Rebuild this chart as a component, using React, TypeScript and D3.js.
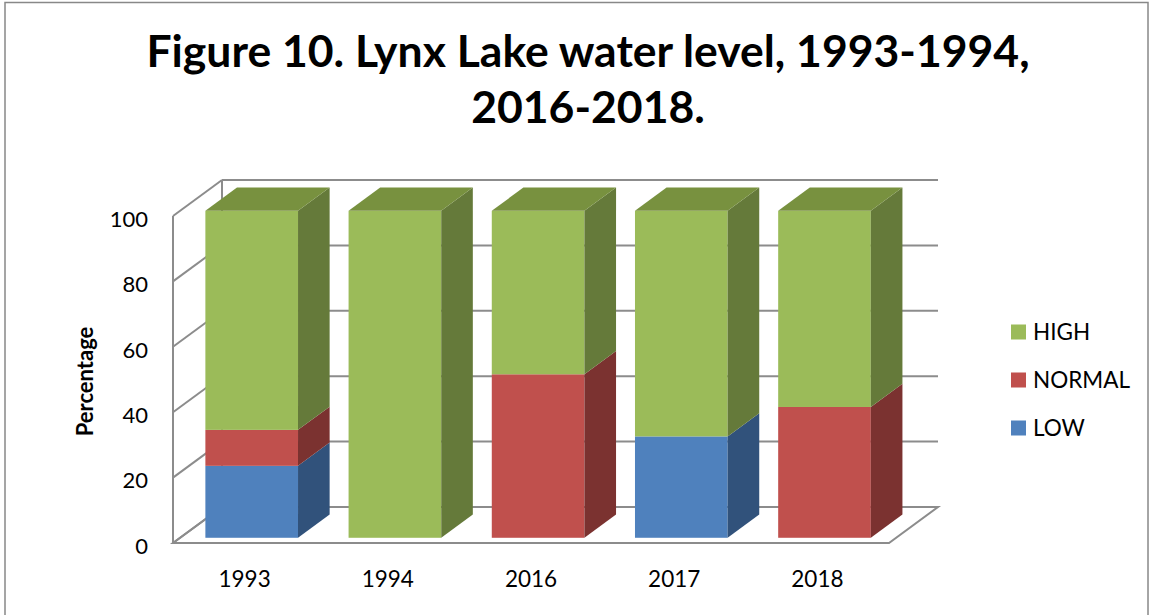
import * as d3 from "d3";

const years = ["1993", "1994", "2016", "2017", "2018"];
const lowValues = [22, 0, 0, 31, 0];
const normalValues = [11, 0, 50, 0, 40];
const highValues = [67, 100, 50, 69, 60];
const seriesNames = ["LOW", "NORMAL", "HIGH"];
const yTicks = [0, 20, 40, 60, 80, 100];
const titleLines = ["Figure 10. Lynx Lake water level, 1993-1994,", "2016-2018."];

const W = 1151;
const H = 615;
const FONT = "Lato, 'Open Sans', sans-serif";

// plot box (front plane) and 3d depth offset
const left = 173;
const right = 889;
const bottom = 543;
const top = 216;
const DX = 49;
const DY = 36;
const zFront = 0.145;
const zBack = 0.79;

const colors: Record<string, { front: string; side: string; top: string }> = {
  LOW: { front: "#4F81BD", side: "#31527B", top: "#3E6A9E" },
  NORMAL: { front: "#C0504D", side: "#7B3230", top: "#9A3F3C" },
  HIGH: { front: "#9BBB59", side: "#657A3A", top: "#78913F" },
};

export default function App() {
  const rows = years.map((year, i) => ({
    year,
    LOW: lowValues[i],
    NORMAL: normalValues[i],
    HIGH: highValues[i],
  }));
  const stacked = d3.stack<any>().keys(seriesNames)(rows);

  const x = d3.scaleBand().domain(years).range([left, right]).paddingInner(0.353).paddingOuter(0.1765);
  const y = d3.scaleLinear().domain([0, 100]).range([bottom, top]);

  const p = (px: number, v: number, z: number): [number, number] => [px + z * DX, y(v) - z * DY];
  const poly = (pts: [number, number][]) => pts.map((q) => q.join(",")).join(" ");

  const gridColor = "#8C8C8C";
  const bw = x.bandwidth();

  return (
    <svg width={W} height={H} style={{ position: "absolute", left: 0, top: 0, background: "#fff" }}>
      <rect x={5} y={2.5} width={1143} height={700} fill="#fff" stroke="#888" strokeWidth={1.5} />

      {titleLines.map((t, i) => (
        <text key={t} x={588} y={67 + i * 56} textAnchor="middle" fontFamily={FONT} fontWeight="bold" fontSize={44.5} fill="#000">
          {t}
        </text>
      ))}

      {/* walls */}
      <g stroke={gridColor} strokeWidth={2} fill="none">
        <polygon points={poly([p(left, 0, 0), p(right, 0, 0), p(right, 0, 1), p(left, 0, 1)])} fill="#fff" />
        {yTicks.map((t) => (
          <g key={t}>
            <line x1={left} y1={y(t)} x2={left + DX} y2={y(t) - DY} />
            <line x1={left + DX} y1={y(t) - DY} x2={right + DX} y2={y(t) - DY} />
          </g>
        ))}
        <line x1={left} y1={y(0)} x2={left} y2={y(100)} />
        <line x1={left + DX} y1={y(0) - DY} x2={left + DX} y2={y(100) - DY} />
      </g>

      {/* bars */}
      {years.map((year, i) => {
        const x0 = x(year)!;
        const x1 = x0 + bw;
        return (
          <g key={year}>
            {stacked.map((s, si) => {
              const [v0, v1] = s[i];
              if (v1 - v0 <= 0) return null;
              const c = colors[s.key];
              const isTop = si === stacked.length - 1 || stacked.slice(si + 1).every((u) => u[i][1] - u[i][0] <= 0);
              const f0 = p(x0, v1, zFront);
              const f1 = p(x1, v0, zFront);
              return (
                <g key={s.key}>
                  <rect x={f0[0]} y={f0[1]} width={f1[0] - f0[0]} height={f1[1] - f0[1]} fill={c.front} />
                  <polygon points={poly([p(x1, v0, zFront), p(x1, v1, zFront), p(x1, v1, zBack), p(x1, v0, zBack)])} fill={c.side} />
                  {isTop && (
                    <polygon points={poly([p(x0, v1, zFront), p(x1, v1, zFront), p(x1, v1, zBack), p(x0, v1, zBack)])} fill={c.top} />
                  )}
                </g>
              );
            })}
          </g>
        );
      })}

      {/* y axis labels */}
      {yTicks.map((t) => (
        <text key={t} x={148} y={y(t) + 3} dy="0.35em" textAnchor="end" fontFamily={FONT} fontSize={22} fill="#000">
          {t}
        </text>
      ))}
      <text transform={`translate(93,${(top + bottom) / 2 + 2}) rotate(-90)`} textAnchor="middle" fontFamily={FONT} fontWeight="bold" fontSize={22} fill="#000">
        Percentage
      </text>

      {/* x axis labels */}
      {years.map((year) => (
        <text key={year} x={x(year)! + bw / 2} y={587} textAnchor="middle" fontFamily={FONT} fontSize={22.5} fill="#000">
          {year}
        </text>
      ))}

      {/* legend */}
      {[...seriesNames].reverse().map((name, i) => (
        <g key={name} transform={`translate(1011,${332 + i * 48})`}>
          <rect x={0} y={-7.5} width={15} height={15} fill={colors[name].front} />
          <text x={22} y={0} dy="0.35em" fontFamily={FONT} fontSize={22.5} fill="#000">
            {name}
          </text>
        </g>
      ))}
    </svg>
  );
}
